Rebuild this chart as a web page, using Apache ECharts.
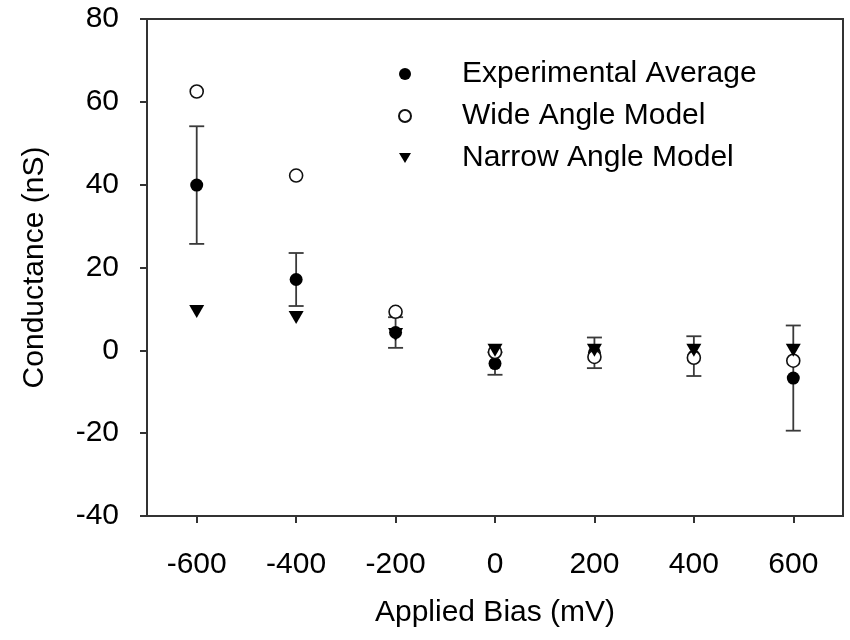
<!DOCTYPE html>
<html>
<head>
<meta charset="utf-8">
<script src="https://cdn.jsdelivr.net/npm/echarts@6/dist/echarts.min.js"></script>
<style>
  html, body { margin: 0; padding: 0; background: #fff; }
  #chart { width: 850px; height: 640px; }
</style>
</head>
<body>
<div id="chart"></div>
<script>
// Applied bias (mV) at which conductance was measured / modelled
const bias = [-600, -400, -200, 0, 200, 400, 600];
// Conductance (nS)
const experimentalAverage = [39.9, 17.1, 4.3, -3.2, -0.6, -1.4, -6.7];
const experimentalError = [14.2, 6.4, 3.7, 2.7, 3.7, 4.8, 12.7];
const wideAngleModel = [62.5, 42.2, 9.3, -0.4, -1.6, -1.8, -2.5];
const narrowAngleModel = [9.4, 7.9, 3.8, 0.0, 0.0, 0.0, 0.0];
// Axis tick values
const xTicks = [-600, -400, -200, 0, 200, 400, 600];
const yTicks = [-40, -20, 0, 20, 40, 60, 80];

const FONT = '"Liberation Sans", Arial, Helvetica, sans-serif';
const INK = '#000';
const AXIS = '#333';
// downward-pointing triangle used for the narrow-angle legend key
const DOWN_TRIANGLE = 'path://M0,0L2,0L1,1.7Z';

const chart = echarts.init(document.getElementById('chart'), null, { renderer: 'canvas' });

const errorData = bias.map((b, i) => [
  b,
  experimentalAverage[i] - experimentalError[i],
  experimentalAverage[i] + experimentalError[i]
]);

chart.setOption({
  animation: false,
  backgroundColor: '#fff',
  grid: {
    left: 147, right: 7, top: 19, bottom: 124,
    show: true, borderColor: AXIS, borderWidth: 2, backgroundColor: 'transparent'
  },
  legend: {
    orient: 'vertical',
    left: 393,
    top: 54,
    itemWidth: 12,
    itemHeight: 12,
    itemGap: 12,
    selectedMode: false,
    data: [
      { name: 'Experimental Average' },
      { name: 'Wide Angle Model' },
      { name: 'Narrow Angle Model', icon: DOWN_TRIANGLE }
    ],
    textStyle: {
      fontFamily: FONT, fontSize: 30, color: INK, lineHeight: 30,
      padding: [0, 0, 0, 46]
    }
  },
  xAxis: {
    type: 'value',
    min: -700, max: 700, interval: 100,
    name: 'Applied Bias (mV)',
    nameLocation: 'middle',
    nameGap: 82,
    nameTextStyle: { fontFamily: FONT, fontSize: 30, color: INK },
    axisLine: { show: true, onZero: false, lineStyle: { color: AXIS, width: 2 } },
    axisTick: { show: true, inside: false, length: 7, customValues: xTicks, lineStyle: { color: AXIS, width: 2 } },
    axisLabel: {
      customValues: xTicks, margin: 34,
      fontFamily: FONT, fontSize: 30, color: INK
    },
    splitLine: { show: false }
  },
  yAxis: {
    type: 'value',
    min: -40, max: 80, interval: 20,
    name: 'Conductance (nS)',
    nameLocation: 'middle',
    nameGap: 97,
    nameRotate: 90,
    nameTextStyle: { fontFamily: FONT, fontSize: 30, color: INK },
    axisLine: { show: true, onZero: false, lineStyle: { color: AXIS, width: 2 } },
    axisTick: { show: true, inside: false, length: 7, customValues: yTicks, lineStyle: { color: AXIS, width: 2 } },
    axisLabel: {
      customValues: yTicks, margin: 28,
      fontFamily: FONT, fontSize: 30, color: INK
    },
    splitLine: { show: false }
  },
  series: [
    {
      name: 'Error',
      type: 'custom',
      data: errorData,
      encode: { x: 0, y: [1, 2] },
      z: 1,
      silent: true,
      renderItem(params, api) {
        const x = api.value(0);
        const lo = api.coord([x, api.value(1)]);
        const hi = api.coord([x, api.value(2)]);
        const half = 7.5;
        const style = { stroke: '#3a3a3a', lineWidth: 1.8 };
        return {
          type: 'group',
          children: [
            { type: 'line', shape: { x1: hi[0], y1: hi[1], x2: lo[0], y2: lo[1] }, style },
            { type: 'line', shape: { x1: hi[0] - half, y1: hi[1], x2: hi[0] + half, y2: hi[1] }, style },
            { type: 'line', shape: { x1: lo[0] - half, y1: lo[1], x2: lo[0] + half, y2: lo[1] }, style }
          ]
        };
      }
    },
    {
      name: 'Experimental Average',
      type: 'scatter',
      data: bias.map((b, i) => [b, experimentalAverage[i]]),
      symbol: 'circle',
      symbolSize: 13,
      z: 2,
      itemStyle: { color: '#000', opacity: 1 }
    },
    {
      name: 'Wide Angle Model',
      type: 'scatter',
      data: bias.map((b, i) => [b, wideAngleModel[i]]),
      symbol: 'circle',
      symbolSize: 13,
      z: 3,
      itemStyle: { color: '#fff', borderColor: '#111', borderWidth: 1.6, opacity: 1 }
    },
    {
      name: 'Narrow Angle Model',
      type: 'scatter',
      data: bias.map((b, i) => [b, narrowAngleModel[i]]),
      symbol: 'triangle',
      symbolRotate: 180,
      symbolSize: [15, 13],
      z: 4,
      itemStyle: { color: '#000', opacity: 1 }
    }
  ]
});
</script>
</body>
</html>
